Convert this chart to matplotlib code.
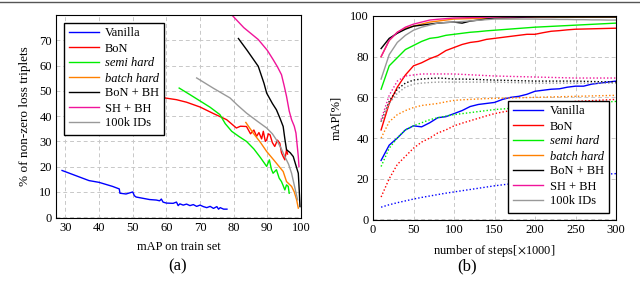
import numpy as np
import matplotlib.pyplot as plt

plt.rcParams['font.family'] = ['Liberation Serif', 'DejaVu Serif']
plt.rcParams['font.size'] = 9
plt.rcParams['mathtext.fontset'] = 'stix'

names = ['Vanilla', 'BoN', 'semi hard', 'batch hard', 'BoN + BH', 'SH + BH', '100k IDs']
italic = [False, False, True, True, False, False, False]
colors = ['#0000ff', '#ff0000', '#00ee00', '#ff8000', '#000000', '#f0149a', '#999999']

# (a) % of non-zero loss triplets vs mAP on train set
van_x = [29, 33, 37, 40, 42, 44, 46, 46.2, 48, 50, 50.5, 51, 53, 55, 57, 58, 58.5, 59, 60, 62, 63, 63.5, 64, 65, 66, 67, 68, 69, 70, 71, 72, 73, 74, 75, 75.5, 76, 77, 78]
van_y = [18.5, 16.5, 14.5, 13.8, 13, 12.2, 11.2, 9.5, 9.2, 10, 8.5, 8, 7.5, 7, 6.8, 6.5, 7.2, 6, 5.6, 5.5, 6, 4.6, 5.3, 4.8, 5.2, 4.6, 5, 4.3, 4.8, 4.2, 3.8, 4.3, 3.5, 4.2, 3.2, 3.8, 3.2, 3.2]
bon_x = [45.2, 52, 58, 63, 66, 70, 74, 77.9, 80.8, 82, 83.8, 85, 86, 86.8, 87.5, 88.3, 88.8, 89.4, 89.8, 90.3, 90.8, 91.5, 92.2, 93, 93.7, 94.2, 94.7, 95.2, 95.7, 96]
bon_y = [50.7, 49.1, 47.5, 46.5, 45.5, 43.6, 41, 38.6, 35.3, 36, 35.9, 33, 34.5, 32, 33.5, 31, 34, 30, 30.6, 33, 32.6, 29.5, 28, 30.5, 29.3, 25.5, 24, 22.7, 26.7, 25]
sh_x = [63.8, 67, 70, 73, 75.9, 77.5, 79.4, 81.5, 83.8, 86, 88, 89.8, 90.6, 91.2, 91.7, 92.7, 93.5, 94.2, 94.7, 95.2, 95.7, 96.2, 96.5]
sh_y = [51.1, 48.5, 46, 43.5, 40.6, 37, 34, 32, 30, 27, 23.5, 20.1, 22.7, 19, 17.4, 18.8, 15.5, 14.1, 12.5, 10.8, 12.8, 12.2, 9.5]
bh_x = [83.6, 85.8, 88, 89.8, 92, 94.7, 95.7, 97.2, 98, 98.7, 99.2]
bh_y = [37.5, 33.3, 29.5, 26, 22.5, 18.1, 14.1, 12.2, 10, 6.9, 3.6]
bonbh_x = [81.4, 84, 87.3, 89, 89.8, 91.5, 92.7, 93.8, 94.7, 95.2, 95.7, 96.8, 97.7, 98.6, 99.2, 99.5, 99.7]
bonbh_y = [70.7, 66, 59.7, 53, 49.1, 45, 42.5, 39, 35.9, 31, 26.7, 25.5, 24, 20, 17.4, 10, 4.2]
shbh_x = [79.6, 83, 87.3, 90, 91.7, 93, 94.2, 95, 95.7, 96.5, 97.2, 98, 98.5, 99.2, 99.4]
shbh_y = [79.8, 75, 70.3, 66, 62.4, 59.5, 56.4, 52, 47.8, 42, 38.6, 36, 33.3, 24, 20]
ids_x = [69, 74, 78.9, 81, 83.8, 87, 89.8, 91.5, 92.7, 94, 95.2, 96.3, 97.2, 98.2, 99]
ids_y = [55.1, 51, 47.2, 44.5, 41.2, 38, 35.3, 33, 30.6, 27.5, 24, 21, 17.4, 11.5, 6.9]

# (b) mAP vs number of steps (solid: train, dotted: test)
steps = np.arange(10, 301, 10)
van_tr = [29, 36.5, 40, 44, 46, 45.5, 47.5, 50, 50.5, 52, 53.5, 55.5, 56.5, 57, 57.5, 59, 60, 60.5, 61.5, 63, 63.5, 64, 64.2, 65, 65.5, 65.5, 66.5, 67, 67.5, 68]
van_te = [6, 7.2, 8.2, 9.1, 10, 10.8, 11.5, 12.2, 12.9, 13.5, 14.1, 14.7, 15.3, 15.9, 16.5, 17, 17.5, 18, 18.5, 19, 19.4, 19.8, 20.2, 20.6, 21, 21.3, 21.7, 22, 22.3, 22.5]
bon_tr = [44, 57, 65, 71, 75.5, 77, 79, 80.5, 83, 84.5, 86, 87, 87.5, 88.5, 89, 89.5, 90, 90.5, 91, 91, 91.8, 92.5, 92.8, 93.2, 93.5, 93.6, 93.7, 93.8, 93.9, 94]
bon_te = [11, 20, 27, 31, 35, 38, 40, 42.5, 44, 46, 47.3, 48.5, 49.7, 50.9, 52, 52.8, 53.5, 54.2, 54.9, 55.5, 56, 56.5, 57, 57.5, 58, 58.2, 58.4, 58.6, 58.8, 59]
sh_tr = [64, 75.5, 79.5, 83.5, 85.5, 87.5, 89, 89.5, 90.5, 91, 91.5, 92, 92.3, 92.7, 93, 93.3, 93.6, 93.9, 94.2, 94.5, 94.7, 94.9, 95.1, 95.3, 95.5, 95.7, 95.9, 96.1, 96.3, 96.5]
sh_te = [26, 35, 40, 44, 46, 47.5, 49, 50, 50.8, 51.5, 52, 52.5, 53, 53.5, 54, 54.3, 54.6, 54.9, 55.2, 55.5, 55.8, 56.1, 56.4, 56.7, 57, 57.2, 57.4, 57.6, 57.8, 58]
bh_tr = [80, 88, 92, 94, 95, 96, 97, 97.5, 98, 98.5, 98.6, 98.7, 98.8, 98.9, 99, 99.1, 99.2, 99.3, 99.4, 99.5, 99.5, 99.5, 99.5, 99.5, 99.5, 99.5, 99.5, 99.5, 99.5, 99.5]
bh_te = [40, 48, 51.5, 53.5, 55, 56, 56.5, 57, 57.8, 58.5, 58.8, 59, 59.2, 59.4, 59.5, 59.6, 59.7, 59.8, 59.9, 60, 60.1, 60.2, 60.3, 60.4, 60.5, 60.6, 60.7, 60.8, 60.9, 61]
bonbh_tr = [84, 89, 91.5, 93.5, 95, 95.5, 96, 96.5, 96.8, 97, 96.5, 97.5, 98, 98.5, 99, 99.1, 99.2, 99.3, 99.4, 99.5, 99.5, 99.5, 99.5, 99.5, 99.5, 99.5, 99.5, 99.5, 99.5, 99.5]
bonbh_te = [48, 58, 64, 67, 68.5, 69, 69.3, 69.5, 69.3, 69, 69, 68.9, 68.8, 68.6, 68.5, 68.4, 68.3, 68.2, 68.1, 68, 68, 68, 68, 68, 68, 67.9, 67.8, 67.7, 67.6, 67.5]
shbh_tr = [80, 88, 92, 94.5, 96, 97, 98, 98.4, 98.7, 99, 99.1, 99.2, 99.3, 99.4, 99.5, 99.6, 99.6, 99.7, 99.7, 99.8, 99.8, 99.8, 99.9, 99.9, 99.9, 99.9, 100, 100, 100, 100]
shbh_te = [49, 61, 68, 70.5, 71, 71.5, 71.5, 71.5, 71.5, 71.5, 71.3, 71.1, 70.9, 70.7, 70.5, 70.4, 70.3, 70.2, 70.1, 70, 69.9, 69.8, 69.7, 69.6, 69.5, 69.5, 69.5, 69.5, 69.5, 69.5]
ids_tr = [69, 81, 87, 90.5, 93, 94.5, 95.5, 96.5, 96.8, 97, 97.3, 97.6, 97.9, 98.2, 98.5, 98.5, 98.5, 98.5, 98.5, 98.5, 98.4, 98.4, 98.3, 98.3, 98.2, 98.2, 98.1, 98.1, 98, 98]
ids_te = [48, 57, 62, 65, 66.5, 67, 67.3, 67.5, 67.5, 67.5, 67.5, 67.5, 67.5, 67.5, 67.5, 67.4, 67.3, 67.2, 67.1, 67, 67, 67, 67, 67, 67, 67, 67, 67, 67, 67]

curves_a = [(van_x, van_y), (bon_x, bon_y), (sh_x, sh_y), (bh_x, bh_y),
            (bonbh_x, bonbh_y), (shbh_x, shbh_y), (ids_x, ids_y)]
train_b = [van_tr, bon_tr, sh_tr, bh_tr, bonbh_tr, shbh_tr, ids_tr]
test_b = [van_te, bon_te, sh_te, bh_te, bonbh_te, shbh_te, ids_te]

fig = plt.figure(figsize=(6.4, 2.82), dpi=100)
ax1 = fig.add_axes([56 / 640, 1 - 218 / 282, 245 / 640, 203 / 282])
ax2 = fig.add_axes([373 / 640, 1 - 220 / 282, 243 / 640, 204 / 282])


def style(ax):
    ax.grid(True, color='#c8c8c8', linestyle=(0, (4, 3)), linewidth=0.7)
    ax.set_axisbelow(True)
    ax.tick_params(length=0, labelsize=9, pad=3)
    for s in ax.spines.values():
        s.set_linewidth(0.8)


def legend(ax, loc):
    leg = ax.legend(loc=loc, fancybox=False, edgecolor='black', framealpha=1,
                    fontsize=9, handlelength=2.4, labelspacing=0.24,
                    borderpad=0.4, handletextpad=0.5, borderaxespad=0.6)
    leg.get_frame().set_linewidth(1.0)
    for t, it in zip(leg.get_texts(), italic):
        if it:
            t.set_style('italic')


for (x, y), n, c in zip(curves_a, names, colors):
    ax1.plot(x, y, color=c, lw=1.0, label=n)
ax1.set_xlim(27.2, 100)
ax1.set_ylim(-0.3, 80)
ax1.set_xticks(range(30, 101, 10))
ax1.set_yticks(range(0, 71, 10))
ax1.set_xlabel('mAP on train set', labelpad=5)
ax1.set_ylabel('% of non-zero loss triplets', labelpad=6, fontsize=9.5)
style(ax1)
legend(ax1, 'upper left')

for tr, te, n, c in zip(train_b, test_b, names, colors):
    ax2.plot(steps, tr, color=c, lw=1.0, label=n)
    ax2.plot(steps, te, color=c, lw=1.0, linestyle=(0, (1, 1.5)))
ax2.set_xlim(0, 300)
ax2.set_ylim(-0.3, 100)
ax2.set_xticks(range(0, 301, 50))
ax2.set_yticks(range(0, 101, 20))
ax2.set_xlabel(r'number of steps[$\times$1000]', labelpad=5)
ax2.set_ylabel('mAP[%]', labelpad=6)
style(ax2)
legend(ax2, 'lower right')

fig.text(178 / 640, 1 - 266 / 282, '(a)', ha='center', va='center', fontsize=12)
fig.text(467 / 640, 1 - 266 / 282, '(b)', ha='center', va='center', fontsize=12)
fig.add_artist(plt.Line2D([0, 1], [1 - 1.5 / 282, 1 - 1.5 / 282], color='#555555', lw=1))

fig.savefig('out.png', dpi=100)
